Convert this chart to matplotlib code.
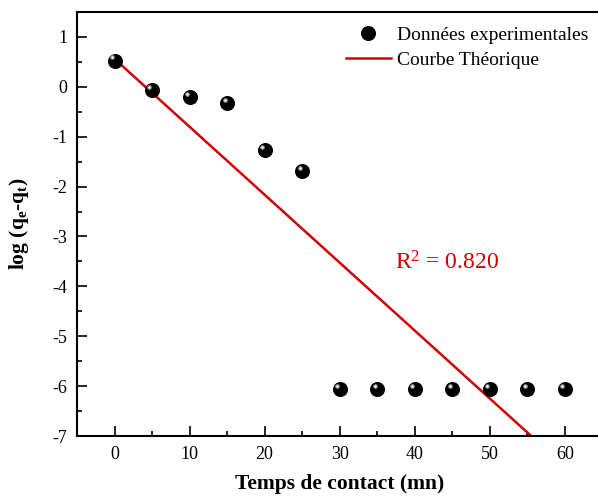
import numpy as np
import matplotlib
matplotlib.use("Agg")
import matplotlib.pyplot as plt
from matplotlib.ticker import MultipleLocator
from matplotlib.lines import Line2D

plt.rcParams['font.family'] = ['Liberation Serif', 'DejaVu Serif']
plt.rcParams['mathtext.fontset'] = 'custom'
plt.rcParams['mathtext.rm'] = 'Liberation Serif'
plt.rcParams['mathtext.it'] = 'Liberation Serif:italic'
plt.rcParams['mathtext.bf'] = 'Liberation Serif:bold'
plt.rcParams['axes.unicode_minus'] = False

# Experimental points
time_min = [0, 5, 10, 15, 20, 25, 30, 35, 40, 45, 50, 55, 60]
log_qe_qt = [0.52, -0.07, -0.21, -0.33, -1.27, -1.69,
             -6.06, -6.06, -6.06, -6.06, -6.06, -6.06, -6.06]

# Linear (pseudo-first-order) fit
fit_intercept = 0.56
fit_slope = -0.1362
fit_x = [0, 60]
r_squared = 0.820

fig = plt.figure(figsize=(5.98, 4.97), dpi=100)
ax = fig.add_axes([77 / 598, 1 - 436 / 497, (602.5 - 77) / 598, (436 - 12) / 497])

fx = np.array(fit_x, dtype=float)
ax.plot(fx, fit_intercept + fit_slope * fx, color='#d00000', lw=1.8, zorder=2)

# spherical-looking markers: dark ball + small highlight
ax.plot(time_min, log_qe_qt, 'o', ms=9.8, color='black', mec='black', zorder=3)
hx = np.array(time_min) - 0.35
hy = np.array(log_qe_qt) + 0.07
ax.plot(hx, hy, 'o', ms=3.4, color='#8c8c8c', mec='none', zorder=4)
ax.plot(hx, hy, 'o', ms=1.7, color='white', mec='none', zorder=5)

ax.set_xlim(-5, 65)
ax.set_ylim(-7, 1.5)
ax.xaxis.set_major_locator(MultipleLocator(10))
ax.xaxis.set_minor_locator(MultipleLocator(5))
ax.yaxis.set_major_locator(MultipleLocator(1))
ax.yaxis.set_minor_locator(MultipleLocator(0.5))
ax.tick_params(which='both', direction='in', top=False, right=False,
               width=1.2, labelsize=13)
ax.tick_params(which='major', length=7, pad=7)
ax.tick_params(which='minor', length=3.5)
for s in ax.spines.values():
    s.set_linewidth(1.5)

ax.set_xlabel('Temps de contact (mn)', fontsize=15.5, fontweight='bold', labelpad=8)
ax.set_ylabel(r'log (q$_{\mathbf{e}}$-q$_{\mathbf{t}}$)', fontsize=15.5,
              fontweight='bold', labelpad=15)

ax.text(37.4, -3.52, 'R$^{2}$ = %.3f' % r_squared, color='#d00000', fontsize=17,
        va='center', ha='left')

handles = [Line2D([], [], ls='none', marker='o', ms=9.8, color='black'),
           Line2D([], [], color='#d00000', lw=1.8)]
ax.legend(handles, ['Données experimentales', 'Courbe Théorique'],
          loc='upper right', bbox_to_anchor=(1.0, 1.0), frameon=False,
          fontsize=14, handlelength=2.3, handletextpad=0.3, labelspacing=0.38,
          borderaxespad=0.45, borderpad=0.3)

fig.savefig('out.png', dpi=100)
